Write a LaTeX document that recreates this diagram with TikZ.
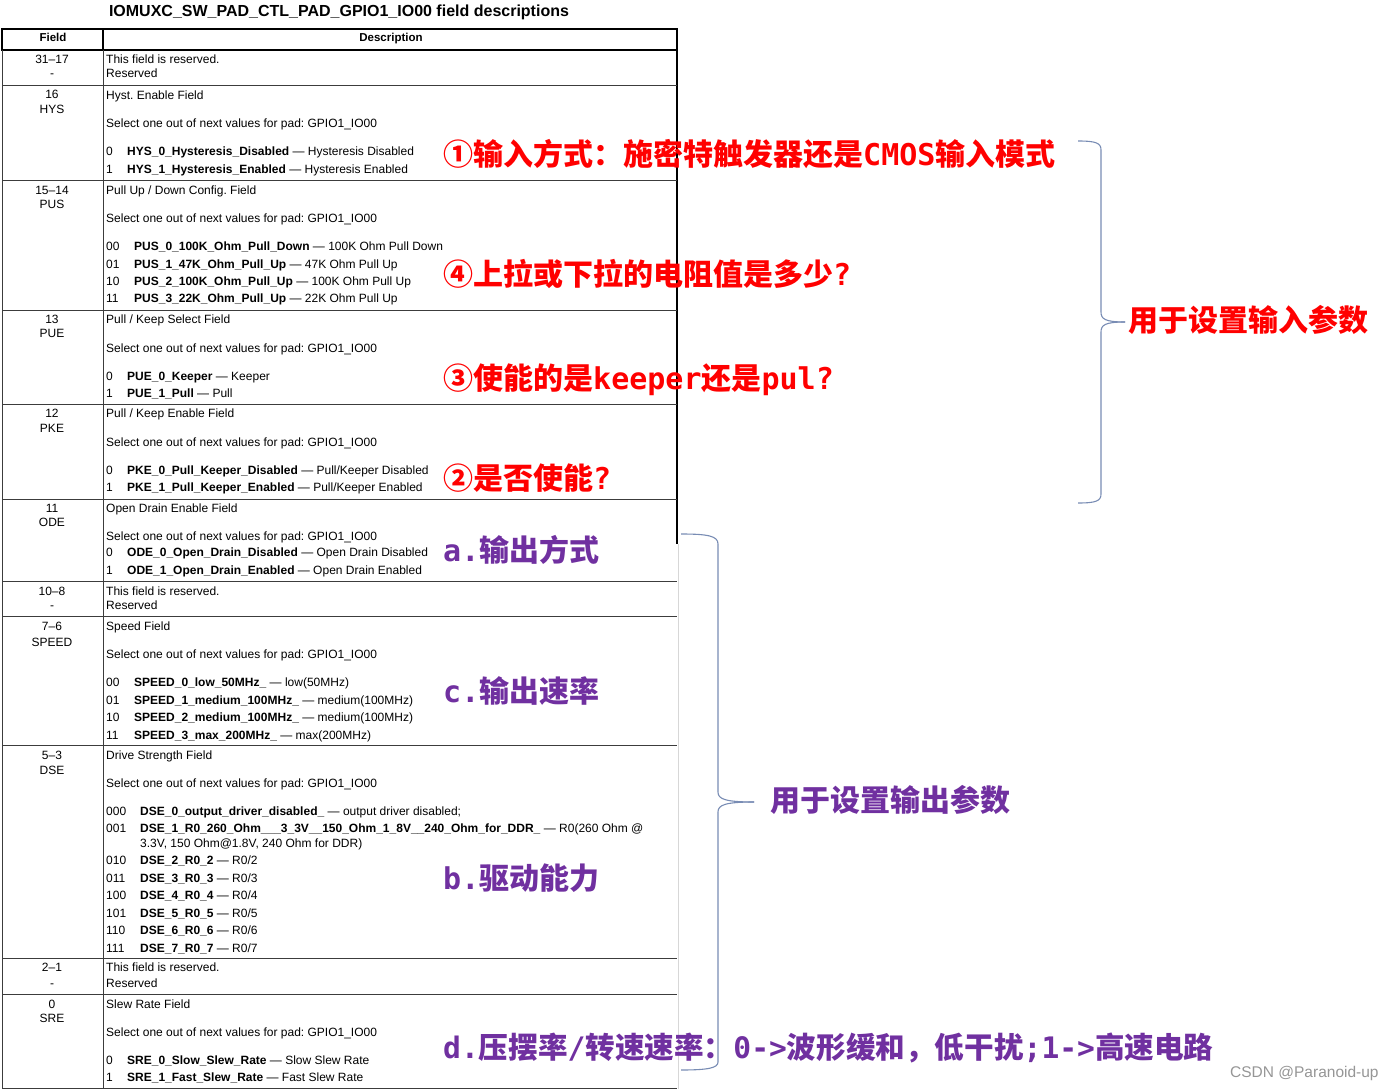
\documentclass[tikz,border=0pt]{standalone}
\usepackage{fontspec}
\setmainfont{Liberation Sans}
\newfontfamily\cjk{Noto Sans CJK SC}
\newfontfamily\monob{DejaVu Sans Mono}
\frenchspacing
\definecolor{annred}{RGB}{255,0,0}
\definecolor{annpurple}{RGB}{112,48,160}
\definecolor{bracecol}{RGB}{120,140,180}
\definecolor{rowline}{RGB}{60,60,60}
\definecolor{lightedge}{RGB}{215,215,215}
\definecolor{wm}{RGB}{150,150,150}
\tikzset{
  txt/.style={anchor=base west, inner sep=0pt, font=\fontsize{12}{14}\selectfont},
  fld/.style={anchor=base, inner sep=0pt, font=\fontsize{12}{14}\selectfont},
  hdr/.style={anchor=base, inner sep=0pt, font=\fontsize{11.5}{14}\selectfont\bfseries},
  ttl/.style={anchor=base, inner sep=0pt, font=\fontsize{16}{18}\selectfont\bfseries},
  ann/.style={anchor=base west, inner sep=0pt, font=\fontsize{30}{32}\selectfont\bfseries},
  brace/.style={draw=bracecol, line width=1.1pt},
  rl/.style={draw=rowline, line width=1pt},
  hb/.style={draw=black, line width=1.8pt},
}
\newcommand\nm[1]{\textbf{#1}}
\begin{document}
\begin{tikzpicture}[x=1pt,y=-1pt]
\useasboundingbox (0,0) rectangle (1395,1089);
\fill[white] (0,0) rectangle (1395,1089);
% title
\node[ttl] (title) at (339,16.5) {IOMUXC\_SW\_PAD\_CTL\_PAD\_GPIO1\_IO00 field descriptions};
% header
\draw[hb] (2,29) rectangle (677,50);
\draw[hb] (103,29) -- (103,50);
\node[hdr] (hfield) at (53,42) {Field};
\node[hdr] (hdesc) at (391,42) {Description};
% table grid
\draw[rl] (2,50) -- (2,1088);
\draw[rl] (103,50) -- (103,1088);
\draw[draw=black, line width=1.2pt] (677,50) -- (677,544);
\draw[draw=lightedge, line width=1pt] (678,544) -- (678,1089);
\foreach \yy in {86,180,310,404,499,581,616,745,958,994,1088}{
  \draw[rl] (2,\yy) -- (677,\yy);
}
% row 31-17
\node[fld] (f1a) at (52,64) {31–17};
\node[fld] (f1b) at (52,78) {-};
\node[txt] (d1a) at (106,64) {This field is reserved.};
\node[txt] (d1b) at (106,78) {Reserved};
% row HYS
\node[fld] (f2a) at (52,99) {16};
\node[fld] (f2b) at (52,114) {HYS};
\node[txt] (d2a) at (106,99.5) {Hyst. Enable Field};
\node[txt] (d2b) at (106,127.5) {Select one out of next values for pad: GPIO1\_IO00};
\node[txt] (d2c0) at (106,155.5) {0};
\node[txt] (d2c) at (127,155.5) {\nm{HYS\_0\_Hysteresis\_Disabled} — Hysteresis Disabled};
\node[txt] (d2d0) at (106,173) {1};
\node[txt] (d2d) at (127,173) {\nm{HYS\_1\_Hysteresis\_Enabled} — Hysteresis Enabled};
% row PUS
\node[fld] (f3a) at (52,194) {15–14};
\node[fld] (f3b) at (52,208) {PUS};
\node[txt] (d3a) at (106,194) {Pull Up / Down Config. Field};
\node[txt] (d3b) at (106,222) {Select one out of next values for pad: GPIO1\_IO00};
\node[txt] (d3c0) at (106,250) {00};
\node[txt] (d3c) at (134,250) {\nm{PUS\_0\_100K\_Ohm\_Pull\_Down} — 100K Ohm Pull Down};
\node[txt] (d3d0) at (106,268) {01};
\node[txt] (d3d) at (134,268) {\nm{PUS\_1\_47K\_Ohm\_Pull\_Up} — 47K Ohm Pull Up};
\node[txt] (d3e0) at (106,285) {10};
\node[txt] (d3e) at (134,285) {\nm{PUS\_2\_100K\_Ohm\_Pull\_Up} — 100K Ohm Pull Up};
\node[txt] (d3f0) at (106,302) {11};
\node[txt] (d3f) at (134,302) {\nm{PUS\_3\_22K\_Ohm\_Pull\_Up} — 22K Ohm Pull Up};
% row PUE
\node[fld] (f4a) at (52,323) {13};
\node[fld] (f4b) at (52,337) {PUE};
\node[txt] (d4a) at (106,323) {Pull / Keep Select Field};
\node[txt] (d4b) at (106,352) {Select one out of next values for pad: GPIO1\_IO00};
\node[txt] (d4c0) at (106,380) {0};
\node[txt] (d4c) at (127,380) {\nm{PUE\_0\_Keeper} — Keeper};
\node[txt] (d4d0) at (106,397) {1};
\node[txt] (d4d) at (127,397) {\nm{PUE\_1\_Pull} — Pull};
% row PKE
\node[fld] (f5a) at (52,417) {12};
\node[fld] (f5b) at (52,432) {PKE};
\node[txt] (d5a) at (106,417) {Pull / Keep Enable Field};
\node[txt] (d5b) at (106,446) {Select one out of next values for pad: GPIO1\_IO00};
\node[txt] (d5c0) at (106,474) {0};
\node[txt] (d5c) at (127,474) {\nm{PKE\_0\_Pull\_Keeper\_Disabled} — Pull/Keeper Disabled};
\node[txt] (d5d0) at (106,491) {1};
\node[txt] (d5d) at (127,491) {\nm{PKE\_1\_Pull\_Keeper\_Enabled} — Pull/Keeper Enabled};
% row ODE
\node[fld] (f6a) at (52,512) {11};
\node[fld] (f6b) at (52,526) {ODE};
\node[txt] (d6a) at (106,512) {Open Drain Enable Field};
\node[txt] (d6b) at (106,540) {Select one out of next values for pad: GPIO1\_IO00};
\node[txt] (d6c0) at (106,556) {0};
\node[txt] (d6c) at (127,556) {\nm{ODE\_0\_Open\_Drain\_Disabled} — Open Drain Disabled};
\node[txt] (d6d0) at (106,574) {1};
\node[txt] (d6d) at (127,574) {\nm{ODE\_1\_Open\_Drain\_Enabled} — Open Drain Enabled};
% row 10-8
\node[fld] (f7a) at (52,595) {10–8};
\node[fld] (f7b) at (52,609) {-};
\node[txt] (d7a) at (106,595) {This field is reserved.};
\node[txt] (d7b) at (106,609) {Reserved};
% row SPEED
\node[fld] (f8a) at (52,630) {7–6};
\node[fld] (f8b) at (52,646) {SPEED};
\node[txt] (d8a) at (106,630) {Speed Field};
\node[txt] (d8b) at (106,658) {Select one out of next values for pad: GPIO1\_IO00};
\node[txt] (d8c0) at (106,686) {00};
\node[txt] (d8c) at (134,686) {\nm{SPEED\_0\_low\_50MHz\_} — low(50MHz)};
\node[txt] (d8d0) at (106,704) {01};
\node[txt] (d8d) at (134,704) {\nm{SPEED\_1\_medium\_100MHz\_} — medium(100MHz)};
\node[txt] (d8e0) at (106,721) {10};
\node[txt] (d8e) at (134,721) {\nm{SPEED\_2\_medium\_100MHz\_} — medium(100MHz)};
\node[txt] (d8f0) at (106,739) {11};
\node[txt] (d8f) at (134,739) {\nm{SPEED\_3\_max\_200MHz\_} — max(200MHz)};
% row DSE
\node[fld] (f9a) at (52,759) {5–3};
\node[fld] (f9b) at (52,774) {DSE};
\node[txt] (d9a) at (106,759) {Drive Strength Field};
\node[txt] (d9b) at (106,787) {Select one out of next values for pad: GPIO1\_IO00};
\node[txt] (d9c0) at (106,815) {000};
\node[txt] (d9c) at (140,815) {\nm{DSE\_0\_output\_driver\_disabled\_} — output driver disabled;};
\node[txt] (d9d0) at (106,832) {001};
\node[txt] (d9d) at (140,832) {\nm{DSE\_1\_R0\_260\_Ohm\_\_\_3\_3V\_\_150\_Ohm\_1\_8V\_\_240\_Ohm\_for\_DDR\_} — R0(260 Ohm @};
\node[txt] (d9e) at (140,847) {3.3V, 150 Ohm@1.8V, 240 Ohm for DDR)};
\node[txt] (d9f0) at (106,864) {010};
\node[txt] (d9f) at (140,864) {\nm{DSE\_2\_R0\_2} — R0/2};
\node[txt] (d9g0) at (106,882) {011};
\node[txt] (d9g) at (140,882) {\nm{DSE\_3\_R0\_3} — R0/3};
\node[txt] (d9h0) at (106,899) {100};
\node[txt] (d9h) at (140,899) {\nm{DSE\_4\_R0\_4} — R0/4};
\node[txt] (d9i0) at (106,917) {101};
\node[txt] (d9i) at (140,917) {\nm{DSE\_5\_R0\_5} — R0/5};
\node[txt] (d9j0) at (106,934) {110};
\node[txt] (d9j) at (140,934) {\nm{DSE\_6\_R0\_6} — R0/6};
\node[txt] (d9k0) at (106,952) {111};
\node[txt] (d9k) at (140,952) {\nm{DSE\_7\_R0\_7} — R0/7};
% row 2-1
\node[fld] (f10a) at (52,971) {2–1};
\node[fld] (f10b) at (52,987) {-};
\node[txt] (d10a) at (106,971) {This field is reserved.};
\node[txt] (d10b) at (106,987) {Reserved};
% row SRE
\node[fld] (f11a) at (52,1008) {0};
\node[fld] (f11b) at (52,1022) {SRE};
\node[txt] (d11a) at (106,1008) {Slew Rate Field};
\node[txt] (d11b) at (106,1036) {Select one out of next values for pad: GPIO1\_IO00};
\node[txt] (d11c0) at (106,1064) {0};
\node[txt] (d11c) at (127,1064) {\nm{SRE\_0\_Slow\_Slew\_Rate} — Slow Slew Rate};
\node[txt] (d11d0) at (106,1081) {1};
\node[txt] (d11d) at (127,1081) {\nm{SRE\_1\_Fast\_Slew\_Rate} — Fast Slew Rate};
% red annotations
\node[ann, text=annred] (r1) at (443,166) {\cjk ①输入方式：施密特触发器还是{\monob CMOS}输入模式};
\node[ann, text=annred] (r4) at (443,285) {\cjk ④上拉或下拉的电阻值是多少{\monob ?}};
\node[ann, text=annred] (r3) at (443,389) {\cjk ③使能的是{\monob keeper}还是{\monob pul?}};
\node[ann, text=annred] (r2) at (443,489) {\cjk ②是否使能{\monob ?}};
\node[ann, text=annred] (rin) at (1128,331) {\cjk 用于设置输入参数};
% purple annotations
\node[ann, text=annpurple] (pa) at (443,561) {{\monob a.}\cjk 输出方式};
\node[ann, text=annpurple] (pc) at (443,702) {{\monob c.}\cjk 输出速率};
\node[ann, text=annpurple] (pb) at (443,889) {{\monob b.}\cjk 驱动能力};
\node[ann, text=annpurple, font=\fontsize{29.6}{32}\selectfont\bfseries] (pd) at (443,1058) {{\monob d.}{\cjk 压摆率}{\monob /}{\cjk 转速速率：}{\monob 0->}{\cjk 波形缓和，低干扰}{\monob ;1->}{\cjk 高速电路}};
\node[ann, text=annpurple] (pout) at (770,811) {\cjk 用于设置输出参数};
% braces
\coordinate (ib1) at (1078,141);
\coordinate (ibt) at (1125,322);
\coordinate (ib2) at (1078,503);
\draw[brace] (ib1) .. controls (1096,141) and (1101,143) .. (1101,150) -- (1101,312) .. controls (1101,319) and (1105,322) .. (ibt);
\draw[brace] (ibt) .. controls (1105,322) and (1101,325) .. (1101,332) -- (1101,494) .. controls (1101,501) and (1096,503) .. (ib2);
\coordinate (ob1) at (681,534);
\coordinate (obt) at (754,802);
\coordinate (ob2) at (681,1070);
\draw[brace] (ob1) .. controls (708,534) and (718,536) .. (718,544) -- (718,792) .. controls (718,799) and (725,802) .. (obt);
\draw[brace] (obt) .. controls (725,802) and (718,805) .. (718,812) -- (718,1062) .. controls (718,1068) and (708,1070) .. (ob2);
% watermark
\node[anchor=base west, inner sep=0pt, text=wm, font=\fontsize{15.5}{17}\selectfont] (wmk) at (1230,1077) {CSDN @Paranoid-up};
\end{tikzpicture}
\end{document}
